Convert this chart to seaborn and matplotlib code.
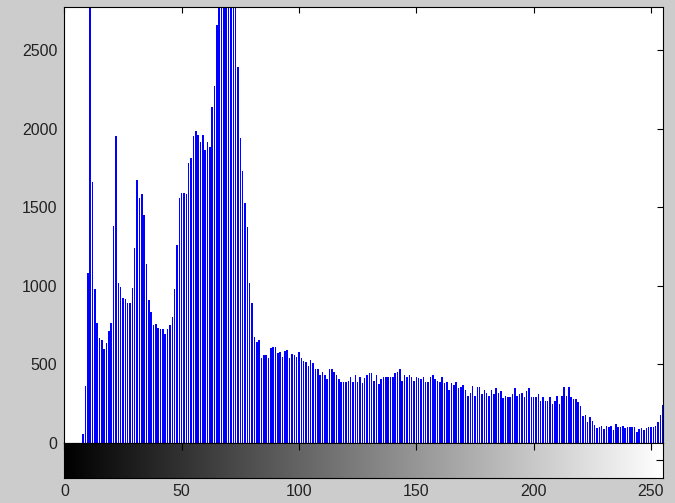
import numpy as np
import pandas as pd
import matplotlib
matplotlib.use('Agg')
import matplotlib.pyplot as plt
import seaborn as sns

# grey levels 0..255
levels = np.arange(256)

# pixel counts, split by range of grey level
counts_dark = [0, 0, 0, 0, 0, 0, 0, 0,
               55, 362, 1083, 3600, 1661, 977, 765, 670, 653, 600,
               636, 714, 765, 1382, 1952, 1019, 994, 924, 915, 888,
               888, 985, 1242, 1670, 1556, 1583, 1449, 1136, 907, 831,
               750, 758, 733, 728, 723, 691, 723, 750, 803, 977]          # 0..47
counts_peak = [1259, 1556, 1587, 1591, 1583, 1782, 1810, 1952, 1985, 1962,
               1916, 1962, 1863, 1916, 1884, 2134, 2270, 2657, 2950, 3200,
               3400, 3300, 3500, 3250, 3050, 2850, 2392, 1937, 1731, 1524,
               1371, 1015, 888, 672]                                       # 48..81
counts_mid = [644, 655, 538, 559, 559, 538, 602, 612, 612, 574,
              580, 549, 585, 591, 538, 566, 559, 549, 580, 538,
              521, 517, 489, 525, 507, 468, 468, 432, 449, 432,
              405, 468, 468, 453, 432, 405, 390, 390, 390, 397,
              422, 390, 432, 390, 418, 380, 411, 432, 443, 443,
              396, 432, 373, 405, 418, 418, 418, 418, 418, 443,
              453, 468, 396, 432, 422, 432, 422, 397, 418, 411,
              405, 422, 390, 390, 418, 432, 405, 394, 390, 418,
              380, 390, 337, 384, 369, 390, 352, 358, 369, 337]            # 82..171
counts_light = [299, 320, 362, 299, 354, 354, 311, 337, 320, 299,
                337, 311, 348, 316, 331, 284, 299, 290, 290, 311,
                348, 299, 311, 320, 290, 333, 348, 290, 295, 290,
                311, 267, 290, 267, 267, 295, 248, 267, 299, 248,
                299, 354, 299, 354, 290, 278, 278, 263, 235, 172,
                178, 136, 163, 142, 114, 93, 99, 108, 87, 108,
                99, 108, 83, 119, 104, 99, 108, 93, 99, 99,
                99, 99, 72, 87, 93, 83, 93, 99, 99, 104,
                108, 136, 178, 242]                                         # 172..255

xticks = [0, 50, 100, 150, 200, 250]
yticks = [0, 500, 1000, 1500, 2000, 2500]

counts = counts_dark + counts_peak + counts_mid + counts_light
df = pd.DataFrame({'level': levels, 'count': counts})

sns.set_style('white')
plt.rcParams['font.family'] = ['Liberation Sans', 'DejaVu Sans']
plt.rcParams['font.size'] = 11.5

fig = plt.figure(figsize=(6.75, 5.03), dpi=100, facecolor='#cccccc')
left, width = 0.0953, 0.8865
ax = fig.add_axes([left, 0.1193, width, 0.8674])
ax2 = fig.add_axes([left, 0.0497, width, 0.0696])

# histogram stems
sns.barplot(data=df, x='level', y='count', native_scale=True, width=0.65,
            color='#0000ff', saturation=1, linewidth=0, ax=ax)
ax.set_xlim(0, 255)
ax.set_ylim(0, 2775)
ax.set_xticks(xticks)
ax.set_yticks(yticks)
ax.set_xticklabels([])
ax.set_xlabel('')
ax.set_ylabel('')
ax.set_facecolor('white')
ax.tick_params(direction='in', top=True, right=True, length=4, width=0.8,
               pad=5, colors='black', labelsize=11.5)
ax.tick_params(labelcolor='#222222')
for s in ax.spines.values():
    s.set_color('black')
    s.set_linewidth(0.8)
    s.set_visible(True)

# grey-level colour bar below
ax2.imshow(levels[np.newaxis, :], cmap='gray', aspect='auto',
           extent=[0, 255, 0, 1], vmin=0, vmax=255)
ax2.set_xlim(0, 255)
ax2.set_ylim(0, 1)
ax2.set_xticks(xticks)
ax2.set_yticks([0.5])
ax2.set_yticklabels([])
ax2.tick_params(direction='in', top=True, right=True, length=5, width=0.8,
                pad=4, colors='black', labelsize=11.5)
ax2.tick_params(labelcolor='#222222')
for s in ax2.spines.values():
    s.set_color('black')
    s.set_linewidth(0.8)
    s.set_visible(True)

fig.savefig('out.png', dpi=100, facecolor=fig.get_facecolor())
